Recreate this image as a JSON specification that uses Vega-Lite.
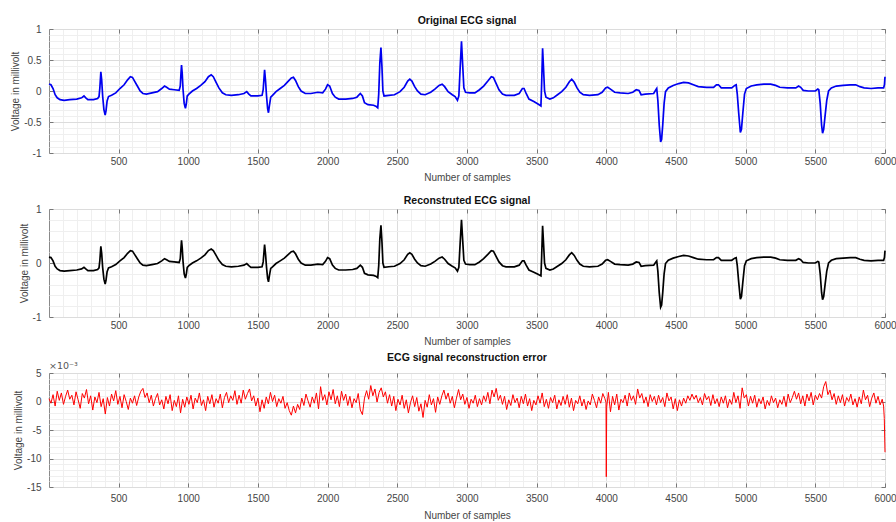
{
"$schema": "https://vega.github.io/schema/vega-lite/v6.json",
"background": "white",
"padding": {"left": 10, "top": 15, "right": 1, "bottom": 0},
"spacing": 56,
"bounds": "flush",
"config": {
  "font": "Liberation Sans",
  "view": {"stroke": "#8a8a8a", "strokeWidth": 1},
  "axis": {"labelFont": "Liberation Sans", "labelFontSize": 10, "labelColor": "#454545", "titleFont": "Liberation Sans", "titleFontSize": 10, "titleFontWeight": "normal", "titleColor": "#454545", "domain": false, "tickColor": "#777777", "tickSize": -4, "labelOverlap": false, "labelFlush": false},
  "title": {"font": "Liberation Sans", "fontSize": 10.5, "fontWeight": "bold", "color": "#111111", "offset": -2, "frame": "group"}
},
"datasets": {
"ecg": [
{"x":1,"o":0.11,"r":0.11},{"x":15,"o":0.10,"r":0.10},{"x":30,"o":0.04,"r":0.04},{"x":45,"o":-0.06,"r":-0.06},{"x":60,"o":-0.11,"r":-0.11},{"x":80,"o":-0.14,"r":-0.14},{"x":110,"o":-0.15,"r":-0.15},{"x":150,"o":-0.14,"r":-0.14},{"x":200,"o":-0.13,"r":-0.13},{"x":235,"o":-0.11,"r":-0.11},{"x":252,"o":-0.08,"r":-0.08},{"x":265,"o":-0.11,"r":-0.11},{"x":280,"o":-0.14,"r":-0.14},{"x":320,"o":-0.14,"r":-0.14},{"x":350,"o":-0.12,"r":-0.12},{"x":360,"o":-0.09,"r":-0.09},{"x":366,"o":0.05,"r":0.05},{"x":373,"o":0.31,"r":0.31},{"x":379,"o":0.18,"r":0.18},{"x":386,"o":-0.08,"r":-0.08},{"x":395,"o":-0.30,"r":-0.30},{"x":404,"o":-0.39,"r":-0.39},{"x":410,"o":-0.32,"r":-0.32},{"x":418,"o":-0.16,"r":-0.16},{"x":428,"o":-0.09,"r":-0.09},{"x":450,"o":-0.07,"r":-0.07},{"x":480,"o":-0.03,"r":-0.03},{"x":510,"o":0.04,"r":0.04},{"x":540,"o":0.10,"r":0.10},{"x":565,"o":0.18,"r":0.18},{"x":585,"o":0.23,"r":0.23},{"x":600,"o":0.22,"r":0.22},{"x":615,"o":0.16,"r":0.16},{"x":635,"o":0.08,"r":0.08},{"x":655,"o":0.00,"r":0.00},{"x":675,"o":-0.04,"r":-0.04},{"x":700,"o":-0.05,"r":-0.05},{"x":740,"o":-0.03,"r":-0.03},{"x":780,"o":-0.01,"r":-0.01},{"x":810,"o":0.04,"r":0.04},{"x":830,"o":0.08,"r":0.08},{"x":845,"o":0.06,"r":0.06},{"x":865,"o":0.03,"r":0.03},{"x":900,"o":0.02,"r":0.02},{"x":935,"o":0.01,"r":0.01},{"x":943,"o":0.08,"r":0.08},{"x":948,"o":0.28,"r":0.28},{"x":952,"o":0.42,"r":0.42},{"x":957,"o":0.28,"r":0.28},{"x":963,"o":0.02,"r":0.02},{"x":971,"o":-0.20,"r":-0.20},{"x":980,"o":-0.28,"r":-0.28},{"x":986,"o":-0.21,"r":-0.21},{"x":993,"o":-0.08,"r":-0.08},{"x":1005,"o":-0.05,"r":-0.05},{"x":1030,"o":0.00,"r":0.00},{"x":1060,"o":0.04,"r":0.04},{"x":1090,"o":0.09,"r":0.09},{"x":1120,"o":0.15,"r":0.15},{"x":1145,"o":0.23,"r":0.23},{"x":1165,"o":0.26,"r":0.26},{"x":1180,"o":0.23,"r":0.23},{"x":1200,"o":0.14,"r":0.14},{"x":1220,"o":0.05,"r":0.05},{"x":1245,"o":-0.03,"r":-0.03},{"x":1270,"o":-0.06,"r":-0.06},{"x":1310,"o":-0.07,"r":-0.07},{"x":1360,"o":-0.06,"r":-0.06},{"x":1400,"o":-0.04,"r":-0.04},{"x":1420,"o":-0.01,"r":-0.01},{"x":1435,"o":-0.05,"r":-0.05},{"x":1450,"o":-0.08,"r":-0.08},{"x":1500,"o":-0.08,"r":-0.08},{"x":1530,"o":-0.07,"r":-0.07},{"x":1538,"o":0.02,"r":0.02},{"x":1548,"o":0.34,"r":0.34},{"x":1555,"o":0.16,"r":0.16},{"x":1562,"o":-0.08,"r":-0.08},{"x":1570,"o":-0.29,"r":-0.29},{"x":1576,"o":-0.35,"r":-0.35},{"x":1583,"o":-0.23,"r":-0.23},{"x":1592,"o":-0.10,"r":-0.10},{"x":1605,"o":-0.07,"r":-0.07},{"x":1630,"o":-0.01,"r":-0.01},{"x":1660,"o":0.04,"r":0.04},{"x":1690,"o":0.09,"r":0.09},{"x":1715,"o":0.15,"r":0.15},{"x":1740,"o":0.21,"r":0.21},{"x":1755,"o":0.22,"r":0.22},{"x":1770,"o":0.17,"r":0.17},{"x":1790,"o":0.07,"r":0.07},{"x":1810,"o":0.00,"r":0.00},{"x":1840,"o":-0.04,"r":-0.04},{"x":1880,"o":-0.04,"r":-0.04},{"x":1930,"o":-0.02,"r":-0.02},{"x":1965,"o":-0.03,"r":-0.03},{"x":1985,"o":0.03,"r":0.03},{"x":2000,"o":0.10,"r":0.10},{"x":2015,"o":0.08,"r":0.08},{"x":2035,"o":-0.04,"r":-0.04},{"x":2055,"o":-0.10,"r":-0.10},{"x":2080,"o":-0.13,"r":-0.13},{"x":2130,"o":-0.13,"r":-0.13},{"x":2180,"o":-0.12,"r":-0.12},{"x":2210,"o":-0.10,"r":-0.10},{"x":2235,"o":-0.04,"r":-0.04},{"x":2250,"o":-0.08,"r":-0.08},{"x":2265,"o":-0.19,"r":-0.19},{"x":2290,"o":-0.22,"r":-0.22},{"x":2330,"o":-0.23,"r":-0.23},{"x":2350,"o":-0.25,"r":-0.25},{"x":2360,"o":-0.27,"r":-0.27},{"x":2367,"o":-0.05,"r":-0.05},{"x":2375,"o":0.45,"r":0.45},{"x":2383,"o":0.70,"r":0.70},{"x":2390,"o":0.40,"r":0.40},{"x":2397,"o":0.00,"r":0.00},{"x":2405,"o":-0.08,"r":-0.08},{"x":2440,"o":-0.07,"r":-0.07},{"x":2480,"o":-0.06,"r":-0.06},{"x":2520,"o":-0.01,"r":-0.01},{"x":2550,"o":0.06,"r":0.06},{"x":2575,"o":0.16,"r":0.16},{"x":2590,"o":0.19,"r":0.19},{"x":2605,"o":0.16,"r":0.16},{"x":2625,"o":0.07,"r":0.07},{"x":2645,"o":0.00,"r":0.00},{"x":2670,"o":-0.05,"r":-0.05},{"x":2700,"o":-0.06,"r":-0.06},{"x":2740,"o":-0.02,"r":-0.02},{"x":2770,"o":0.03,"r":0.03},{"x":2800,"o":0.09,"r":0.09},{"x":2822,"o":0.11,"r":0.11},{"x":2840,"o":0.07,"r":0.07},{"x":2865,"o":-0.01,"r":-0.01},{"x":2895,"o":-0.06,"r":-0.06},{"x":2915,"o":-0.09,"r":-0.09},{"x":2932,"o":-0.15,"r":-0.15},{"x":2942,"o":-0.08,"r":-0.08},{"x":2951,"o":0.35,"r":0.35},{"x":2961,"o":0.80,"r":0.80},{"x":2970,"o":0.40,"r":0.40},{"x":2978,"o":0.05,"r":0.05},{"x":2990,"o":-0.02,"r":-0.02},{"x":3020,"o":-0.03,"r":-0.03},{"x":3057,"o":-0.03,"r":-0.03},{"x":3090,"o":0.02,"r":0.02},{"x":3120,"o":0.08,"r":0.08},{"x":3150,"o":0.16,"r":0.16},{"x":3175,"o":0.23,"r":0.23},{"x":3190,"o":0.22,"r":0.22},{"x":3210,"o":0.12,"r":0.12},{"x":3230,"o":0.02,"r":0.02},{"x":3255,"o":-0.05,"r":-0.05},{"x":3280,"o":-0.07,"r":-0.07},{"x":3340,"o":-0.07,"r":-0.07},{"x":3375,"o":-0.04,"r":-0.04},{"x":3398,"o":0.04,"r":0.04},{"x":3410,"o":0.04,"r":0.04},{"x":3425,"o":-0.04,"r":-0.04},{"x":3445,"o":-0.13,"r":-0.13},{"x":3480,"o":-0.17,"r":-0.17},{"x":3510,"o":-0.21,"r":-0.21},{"x":3531,"o":-0.24,"r":-0.24},{"x":3536,"o":0.10,"r":0.10},{"x":3543,"o":0.69,"r":0.69},{"x":3550,"o":0.35,"r":0.35},{"x":3557,"o":0.00,"r":0.00},{"x":3567,"o":-0.10,"r":-0.10},{"x":3595,"o":-0.13,"r":-0.13},{"x":3620,"o":-0.11,"r":-0.11},{"x":3650,"o":-0.06,"r":-0.06},{"x":3680,"o":-0.01,"r":-0.01},{"x":3710,"o":0.06,"r":0.06},{"x":3735,"o":0.15,"r":0.15},{"x":3752,"o":0.19,"r":0.19},{"x":3770,"o":0.14,"r":0.14},{"x":3790,"o":0.05,"r":0.05},{"x":3810,"o":-0.02,"r":-0.02},{"x":3835,"o":-0.06,"r":-0.06},{"x":3880,"o":-0.07,"r":-0.07},{"x":3940,"o":-0.06,"r":-0.06},{"x":3970,"o":-0.02,"r":-0.02},{"x":3995,"o":0.05,"r":0.05},{"x":4010,"o":0.06,"r":0.06},{"x":4030,"o":0.03,"r":0.03},{"x":4060,"o":-0.02,"r":-0.02},{"x":4100,"o":-0.03,"r":-0.03},{"x":4157,"o":-0.04,"r":-0.04},{"x":4190,"o":-0.02,"r":-0.02},{"x":4215,"o":0.02,"r":0.02},{"x":4235,"o":0.01,"r":0.01},{"x":4250,"o":-0.06,"r":-0.06},{"x":4280,"o":-0.05,"r":-0.05},{"x":4340,"o":-0.04,"r":-0.04},{"x":4356,"o":0.02,"r":0.02},{"x":4362,"o":0.04,"r":0.04},{"x":4370,"o":-0.15,"r":-0.15},{"x":4380,"o":-0.55,"r":-0.55},{"x":4390,"o":-0.82,"r":-0.82},{"x":4397,"o":-0.78,"r":-0.78},{"x":4405,"o":-0.55,"r":-0.55},{"x":4415,"o":-0.20,"r":-0.20},{"x":4425,"o":-0.01,"r":-0.01},{"x":4445,"o":0.05,"r":0.05},{"x":4480,"o":0.09,"r":0.09},{"x":4520,"o":0.12,"r":0.12},{"x":4555,"o":0.14,"r":0.14},{"x":4590,"o":0.13,"r":0.13},{"x":4625,"o":0.10,"r":0.10},{"x":4660,"o":0.07,"r":0.07},{"x":4720,"o":0.06,"r":0.06},{"x":4770,"o":0.06,"r":0.06},{"x":4790,"o":0.10,"r":0.10},{"x":4805,"o":0.10,"r":0.10},{"x":4825,"o":0.05,"r":0.05},{"x":4900,"o":0.05,"r":0.05},{"x":4922,"o":0.09,"r":0.09},{"x":4932,"o":0.10,"r":0.10},{"x":4940,"o":-0.05,"r":-0.05},{"x":4950,"o":-0.35,"r":-0.35},{"x":4962,"o":-0.67,"r":-0.67},{"x":4970,"o":-0.62,"r":-0.62},{"x":4980,"o":-0.35,"r":-0.35},{"x":4992,"o":-0.05,"r":-0.05},{"x":5005,"o":0.04,"r":0.04},{"x":5040,"o":0.08,"r":0.08},{"x":5080,"o":0.10,"r":0.10},{"x":5130,"o":0.11,"r":0.11},{"x":5180,"o":0.11,"r":0.11},{"x":5215,"o":0.09,"r":0.09},{"x":5245,"o":0.06,"r":0.06},{"x":5300,"o":0.05,"r":0.05},{"x":5360,"o":0.05,"r":0.05},{"x":5380,"o":0.08,"r":0.08},{"x":5395,"o":0.06,"r":0.06},{"x":5413,"o":0.01,"r":0.01},{"x":5450,"o":0.00,"r":0.00},{"x":5500,"o":0.00,"r":0.00},{"x":5518,"o":0.03,"r":0.03},{"x":5525,"o":0.02,"r":0.02},{"x":5535,"o":-0.20,"r":-0.20},{"x":5545,"o":-0.55,"r":-0.55},{"x":5552,"o":-0.68,"r":-0.68},{"x":5560,"o":-0.62,"r":-0.62},{"x":5570,"o":-0.40,"r":-0.40},{"x":5582,"o":-0.15,"r":-0.15},{"x":5595,"o":0.00,"r":0.00},{"x":5615,"o":0.05,"r":0.05},{"x":5650,"o":0.08,"r":0.08},{"x":5700,"o":0.09,"r":0.09},{"x":5750,"o":0.10,"r":0.10},{"x":5790,"o":0.10,"r":0.10},{"x":5820,"o":0.07,"r":0.07},{"x":5850,"o":0.05,"r":0.05},{"x":5900,"o":0.04,"r":0.04},{"x":5950,"o":0.05,"r":0.05},{"x":5990,"o":0.05,"r":0.05},{"x":5996,"o":0.10,"r":0.10},{"x":6000,"o":0.23,"r":0.23}
],
"err": [
{"x":1,"e":0.5},{"x":15,"e":-0.3},{"x":30,"e":1.2},{"x":45,"e":-0.8},{"x":60,"e":1.8},{"x":75,"e":0.2},{"x":90,"e":1.5},{"x":105,"e":-0.5},{"x":120,"e":0.9},{"x":135,"e":2.0},{"x":150,"e":0.4},{"x":165,"e":1.1},{"x":180,"e":-0.6},{"x":195,"e":1.7},{"x":210,"e":0.3},{"x":225,"e":-1.2},{"x":240,"e":1.4},{"x":255,"e":0.6},{"x":270,"e":2.1},{"x":285,"e":-0.4},{"x":300,"e":1.0},{"x":315,"e":-1.5},{"x":330,"e":0.8},{"x":345,"e":-0.2},{"x":360,"e":1.6},{"x":375,"e":-0.9},{"x":390,"e":0.5},{"x":405,"e":-2.2},{"x":420,"e":0.7},{"x":435,"e":-0.8},{"x":450,"e":1.3},{"x":465,"e":0.1},{"x":480,"e":1.9},{"x":495,"e":-0.5},{"x":510,"e":0.9},{"x":525,"e":-1.1},{"x":540,"e":1.2},{"x":555,"e":0.0},{"x":570,"e":-1.4},{"x":585,"e":0.6},{"x":600,"e":-0.3},{"x":615,"e":1.0},{"x":630,"e":-0.7},{"x":645,"e":0.8},{"x":660,"e":1.8},{"x":675,"e":2.3},{"x":690,"e":0.7},{"x":705,"e":1.5},{"x":720,"e":-0.2},{"x":735,"e":1.1},{"x":750,"e":-0.8},{"x":765,"e":0.5},{"x":780,"e":1.4},{"x":795,"e":-0.6},{"x":810,"e":0.3},{"x":825,"e":-1.3},{"x":840,"e":0.9},{"x":855,"e":-0.4},{"x":870,"e":1.2},{"x":885,"e":-1.6},{"x":900,"e":0.2},{"x":915,"e":-0.9},{"x":930,"e":1.0},{"x":945,"e":-2.0},{"x":960,"e":0.4},{"x":975,"e":-1.0},{"x":990,"e":0.8},
{"x":1005,"e":-0.5},{"x":1020,"e":1.1},{"x":1035,"e":-1.3},{"x":1050,"e":0.6},{"x":1065,"e":-0.2},{"x":1080,"e":1.5},{"x":1095,"e":-0.7},{"x":1110,"e":0.3},{"x":1125,"e":-1.6},{"x":1140,"e":0.9},{"x":1155,"e":-0.4},{"x":1170,"e":1.2},{"x":1185,"e":-1.0},{"x":1200,"e":0.5},{"x":1215,"e":-0.3},{"x":1230,"e":1.3},{"x":1245,"e":-1.1},{"x":1260,"e":0.7},{"x":1275,"e":1.6},{"x":1290,"e":-0.2},{"x":1305,"e":1.0},{"x":1320,"e":0.2},{"x":1335,"e":1.9},{"x":1350,"e":-0.5},{"x":1365,"e":1.1},{"x":1380,"e":-0.3},{"x":1395,"e":2.0},{"x":1410,"e":0.4},{"x":1425,"e":1.4},{"x":1440,"e":2.2},{"x":1455,"e":0.1},{"x":1470,"e":1.0},{"x":1485,"e":-0.8},{"x":1500,"e":0.6},{"x":1515,"e":-1.8},{"x":1530,"e":0.3},{"x":1545,"e":-1.2},{"x":1560,"e":0.8},{"x":1575,"e":-0.4},{"x":1590,"e":1.6},{"x":1605,"e":0.0},{"x":1620,"e":1.1},{"x":1635,"e":-0.9},{"x":1650,"e":0.5},{"x":1665,"e":-0.3},{"x":1680,"e":0.9},{"x":1695,"e":-1.2},{"x":1710,"e":-0.2},{"x":1725,"e":-1.6},{"x":1740,"e":-2.4},{"x":1755,"e":-0.8},{"x":1770,"e":-2.0},{"x":1785,"e":-0.5},{"x":1800,"e":-1.4},{"x":1815,"e":0.6},{"x":1830,"e":-0.7},{"x":1845,"e":1.3},{"x":1860,"e":0.1},{"x":1875,"e":-1.0},{"x":1890,"e":0.8},{"x":1905,"e":-0.3},{"x":1920,"e":1.5},{"x":1935,"e":-1.3},{"x":1950,"e":2.6},{"x":1965,"e":0.2},{"x":1980,"e":1.2},{"x":1995,"e":-0.6},
{"x":2010,"e":1.7},{"x":2025,"e":0.3},{"x":2040,"e":2.1},{"x":2055,"e":-0.4},{"x":2070,"e":1.0},{"x":2085,"e":-0.9},{"x":2100,"e":1.8},{"x":2115,"e":0.2},{"x":2130,"e":1.3},{"x":2145,"e":-0.7},{"x":2160,"e":0.9},{"x":2175,"e":-1.1},{"x":2190,"e":0.5},{"x":2205,"e":-0.2},{"x":2220,"e":1.4},{"x":2235,"e":-1.5},{"x":2250,"e":-2.3},{"x":2265,"e":0.6},{"x":2280,"e":1.9},{"x":2295,"e":0.4},{"x":2310,"e":2.8},{"x":2325,"e":1.0},{"x":2340,"e":2.2},{"x":2355,"e":-0.1},{"x":2370,"e":1.6},{"x":2385,"e":2.4},{"x":2400,"e":0.8},{"x":2415,"e":1.7},{"x":2430,"e":-0.3},{"x":2445,"e":1.2},{"x":2460,"e":-0.8},{"x":2475,"e":0.9},{"x":2490,"e":-1.6},{"x":2505,"e":0.4},{"x":2520,"e":-0.6},{"x":2535,"e":1.1},{"x":2550,"e":-1.2},{"x":2565,"e":0.3},{"x":2580,"e":-2.0},{"x":2595,"e":-0.2},{"x":2610,"e":1.0},{"x":2625,"e":-0.9},{"x":2640,"e":0.7},{"x":2655,"e":-1.7},{"x":2670,"e":-0.4},{"x":2685,"e":-2.8},{"x":2700,"e":0.2},{"x":2715,"e":-1.0},{"x":2730,"e":1.2},{"x":2745,"e":-0.6},{"x":2760,"e":0.5},{"x":2775,"e":-1.9},{"x":2790,"e":0.8},{"x":2805,"e":-0.5},{"x":2820,"e":1.0},{"x":2835,"e":2.0},{"x":2850,"e":0.4},{"x":2865,"e":1.5},{"x":2880,"e":-0.3},{"x":2895,"e":0.9},{"x":2910,"e":-1.1},{"x":2925,"e":0.6},{"x":2940,"e":2.1},{"x":2955,"e":0.3},{"x":2970,"e":1.3},{"x":2985,"e":-0.5},
{"x":3000,"e":0.7},{"x":3015,"e":-1.2},{"x":3030,"e":0.4},{"x":3045,"e":-0.3},{"x":3060,"e":1.1},{"x":3075,"e":-0.9},{"x":3090,"e":0.5},{"x":3105,"e":-0.6},{"x":3120,"e":1.0},{"x":3135,"e":0.0},{"x":3150,"e":1.6},{"x":3165,"e":-0.4},{"x":3180,"e":2.0},{"x":3195,"e":0.8},{"x":3210,"e":2.3},{"x":3225,"e":0.2},{"x":3240,"e":1.1},{"x":3255,"e":-0.5},{"x":3270,"e":0.9},{"x":3285,"e":-1.4},{"x":3300,"e":0.3},{"x":3315,"e":-0.7},{"x":3330,"e":1.2},{"x":3345,"e":-0.2},{"x":3360,"e":0.6},{"x":3375,"e":-1.1},{"x":3390,"e":0.9},{"x":3405,"e":-0.4},{"x":3420,"e":1.3},{"x":3435,"e":-0.8},{"x":3450,"e":0.5},{"x":3465,"e":-1.6},{"x":3480,"e":0.2},{"x":3495,"e":-0.6},{"x":3510,"e":1.0},{"x":3525,"e":-0.3},{"x":3540,"e":1.5},{"x":3555,"e":-0.9},{"x":3570,"e":0.4},{"x":3585,"e":-1.2},{"x":3600,"e":0.7},{"x":3615,"e":-0.2},{"x":3630,"e":1.1},{"x":3645,"e":-1.3},{"x":3660,"e":0.3},{"x":3675,"e":-0.7},{"x":3690,"e":0.9},{"x":3705,"e":-0.5},{"x":3720,"e":1.2},{"x":3735,"e":-1.0},{"x":3750,"e":0.6},{"x":3765,"e":-1.6},{"x":3780,"e":0.2},{"x":3795,"e":-0.4},{"x":3810,"e":1.0},{"x":3825,"e":-0.8},{"x":3840,"e":0.4},{"x":3855,"e":-1.4},{"x":3870,"e":0.1},{"x":3885,"e":-0.6},{"x":3900,"e":1.3},{"x":3915,"e":0.2},{"x":3930,"e":-1.1},{"x":3945,"e":0.8},{"x":3960,"e":-0.3},{"x":3975,"e":1.4},{"x":3990,"e":0.5},{"x":3998,"e":-0.2},{"x":4000,"e":-13.2},{"x":4003,"e":-1.0},
{"x":4015,"e":1.6},{"x":4030,"e":-1.8},{"x":4045,"e":0.9},{"x":4060,"e":-0.6},{"x":4075,"e":1.3},{"x":4090,"e":-1.5},{"x":4105,"e":0.4},{"x":4120,"e":-0.2},{"x":4135,"e":1.1},{"x":4150,"e":-0.8},{"x":4165,"e":1.5},{"x":4180,"e":0.2},{"x":4195,"e":1.0},{"x":4210,"e":-0.5},{"x":4225,"e":2.2},{"x":4240,"e":0.6},{"x":4255,"e":1.4},{"x":4270,"e":-0.3},{"x":4285,"e":0.8},{"x":4300,"e":-0.9},{"x":4315,"e":1.2},{"x":4330,"e":0.0},{"x":4345,"e":0.9},{"x":4360,"e":-0.6},{"x":4375,"e":1.1},{"x":4390,"e":-0.2},{"x":4405,"e":0.7},{"x":4420,"e":-0.9},{"x":4435,"e":1.5},{"x":4450,"e":0.1},{"x":4465,"e":0.8},{"x":4480,"e":-1.3},{"x":4495,"e":0.5},{"x":4510,"e":-1.6},{"x":4525,"e":0.3},{"x":4540,"e":-0.8},{"x":4555,"e":0.6},{"x":4570,"e":-0.3},{"x":4585,"e":1.0},{"x":4600,"e":0.2},{"x":4615,"e":1.3},{"x":4630,"e":0.4},{"x":4645,"e":1.1},{"x":4660,"e":-0.2},{"x":4675,"e":0.7},{"x":4690,"e":-0.6},{"x":4705,"e":1.4},{"x":4720,"e":0.3},{"x":4735,"e":0.9},{"x":4750,"e":-0.7},{"x":4765,"e":1.2},{"x":4780,"e":-0.4},{"x":4795,"e":0.5},{"x":4810,"e":-0.9},{"x":4825,"e":0.8},{"x":4840,"e":-0.3},{"x":4855,"e":1.0},{"x":4870,"e":-1.1},{"x":4885,"e":0.4},{"x":4900,"e":-0.5},{"x":4915,"e":1.6},{"x":4930,"e":-0.2},{"x":4945,"e":1.0},{"x":4960,"e":-1.2},{"x":4975,"e":2.4},{"x":4990,"e":0.6},
{"x":5005,"e":1.2},{"x":5020,"e":-0.8},{"x":5035,"e":0.9},{"x":5050,"e":-0.3},{"x":5065,"e":1.1},{"x":5080,"e":-1.0},{"x":5095,"e":0.5},{"x":5110,"e":-0.4},{"x":5125,"e":0.8},{"x":5140,"e":-1.3},{"x":5155,"e":0.2},{"x":5170,"e":-0.7},{"x":5185,"e":1.0},{"x":5200,"e":-0.2},{"x":5215,"e":0.6},{"x":5230,"e":-1.1},{"x":5245,"e":0.3},{"x":5260,"e":-0.5},{"x":5275,"e":0.9},{"x":5290,"e":-0.9},{"x":5305,"e":1.3},{"x":5320,"e":-0.2},{"x":5335,"e":0.7},{"x":5350,"e":1.8},{"x":5365,"e":0.4},{"x":5380,"e":1.5},{"x":5395,"e":-0.4},{"x":5410,"e":1.0},{"x":5425,"e":-0.8},{"x":5440,"e":1.3},{"x":5455,"e":0.1},{"x":5470,"e":1.6},{"x":5485,"e":-0.6},{"x":5500,"e":1.1},{"x":5515,"e":0.3},{"x":5530,"e":1.4},{"x":5545,"e":0.6},{"x":5560,"e":2.6},{"x":5575,"e":3.5},{"x":5590,"e":1.2},{"x":5605,"e":2.0},{"x":5620,"e":0.3},{"x":5635,"e":1.4},{"x":5650,"e":-0.5},{"x":5665,"e":1.0},{"x":5680,"e":-0.2},{"x":5695,"e":1.2},{"x":5710,"e":-0.8},{"x":5725,"e":0.7},{"x":5740,"e":0.0},{"x":5755,"e":1.3},{"x":5770,"e":-0.6},{"x":5785,"e":0.5},{"x":5800,"e":-1.0},{"x":5815,"e":0.8},{"x":5830,"e":-0.4},{"x":5845,"e":2.0},{"x":5860,"e":0.3},{"x":5875,"e":1.1},{"x":5890,"e":-0.9},{"x":5905,"e":0.6},{"x":5920,"e":1.5},{"x":5935,"e":-0.3},{"x":5950,"e":0.9},{"x":5965,"e":-0.6},{"x":5980,"e":0.4},{"x":5990,"e":-0.8},{"x":5995,"e":-3.0},{"x":6000,"e":-8.9}
]
},
"vconcat": [
{
  "title": "Original ECG signal",
  "width": 836, "height": 124,
  "data": {"name": "ecg"},
  "layer": [
    {"mark": {"type": "line", "color": "#0000f0", "strokeWidth": 1.7},
     "encoding": {
       "x": {"field": "x", "type": "quantitative", "scale": {"domain": [1, 6000], "nice": false, "zero": false},
         "axis": {"title": "Number of samples", "values": [100,200,300,400,500,600,700,800,900,1000,1100,1200,1300,1400,1500,1600,1700,1800,1900,2000,2100,2200,2300,2400,2500,2600,2700,2800,2900,3000,3100,3200,3300,3400,3500,3600,3700,3800,3900,4000,4100,4200,4300,4400,4500,4600,4700,4800,4900,5000,5100,5200,5300,5400,5500,5600,5700,5800,5900,6000],
           "labelExpr": "datum.value % 500 === 0 ? '' + datum.value : ''",
           "gridColor": {"condition": {"test": "datum.value % 500 === 0", "value": "#dcdcdc"}, "value": "#efefef"},
           "tickOpacity": {"condition": {"test": "datum.value % 500 === 0", "value": 1}, "value": 0},
           "labelPadding": 7, "titlePadding": 6}},
       "y": {"field": "o", "type": "quantitative", "scale": {"domain": [-1, 1], "nice": false, "zero": false},
         "axis": {"title": "Voltage in millivolt", "values": [-1,-0.9,-0.8,-0.7,-0.6,-0.5,-0.4,-0.3,-0.2,-0.1,0,0.1,0.2,0.3,0.4,0.5,0.6,0.7,0.8,0.9,1],
           "labelExpr": "abs(datum.value*2 - round(datum.value*2)) < 0.001 ? '' + datum.value : ''",
           "gridColor": {"condition": {"test": "abs(datum.value*2 - round(datum.value*2)) < 0.001", "value": "#dcdcdc"}, "value": "#efefef"},
           "tickOpacity": {"condition": {"test": "abs(datum.value*2 - round(datum.value*2)) < 0.001", "value": 1}, "value": 0},
           "labelPadding": 12, "titlePadding": 3}}
     }},
    {"mark": {"type": "line", "opacity": 0},
     "encoding": {
       "x": {"field": "x", "type": "quantitative", "scale": {"domain": [1, 6000], "nice": false, "zero": false},
         "axis": {"orient": "top", "title": null, "labels": false, "grid": false, "values": [500,1000,1500,2000,2500,3000,3500,4000,4500,5000,5500,6000]}},
       "y": {"field": "o", "type": "quantitative", "scale": {"domain": [-1, 1], "nice": false, "zero": false},
         "axis": {"orient": "right", "title": null, "labels": false, "grid": false, "values": [-1,-0.5,0,0.5,1]}}
     }}
  ],
  "resolve": {"axis": {"x": "independent", "y": "independent"}}
},
{
  "title": "Reconstruted ECG signal",
  "width": 836, "height": 108,
  "data": {"name": "ecg"},
  "layer": [
    {"mark": {"type": "line", "color": "#000000", "strokeWidth": 1.7},
     "encoding": {
       "x": {"field": "x", "type": "quantitative", "scale": {"domain": [1, 6000], "nice": false, "zero": false},
         "axis": {"title": "Number of samples", "values": [100,200,300,400,500,600,700,800,900,1000,1100,1200,1300,1400,1500,1600,1700,1800,1900,2000,2100,2200,2300,2400,2500,2600,2700,2800,2900,3000,3100,3200,3300,3400,3500,3600,3700,3800,3900,4000,4100,4200,4300,4400,4500,4600,4700,4800,4900,5000,5100,5200,5300,5400,5500,5600,5700,5800,5900,6000],
           "labelExpr": "datum.value % 500 === 0 ? '' + datum.value : ''",
           "gridColor": {"condition": {"test": "datum.value % 500 === 0", "value": "#dcdcdc"}, "value": "#efefef"},
           "tickOpacity": {"condition": {"test": "datum.value % 500 === 0", "value": 1}, "value": 0},
           "labelPadding": 7, "titlePadding": 6}},
       "y": {"field": "r", "type": "quantitative", "scale": {"domain": [-1, 1], "nice": false, "zero": false},
         "axis": {"title": "Voltage in millivolt", "values": [-1,-0.8,-0.6,-0.4,-0.2,0,0.2,0.4,0.6,0.8,1],
           "labelExpr": "abs(datum.value - round(datum.value)) < 0.001 ? '' + datum.value : ''",
           "gridColor": {"condition": {"test": "abs(datum.value - round(datum.value)) < 0.001", "value": "#dcdcdc"}, "value": "#efefef"},
           "tickOpacity": {"condition": {"test": "abs(datum.value - round(datum.value)) < 0.001", "value": 1}, "value": 0},
           "labelPadding": 12, "titlePadding": 3}}
     }},
    {"mark": {"type": "line", "opacity": 0},
     "encoding": {
       "x": {"field": "x", "type": "quantitative", "scale": {"domain": [1, 6000], "nice": false, "zero": false},
         "axis": {"orient": "top", "title": null, "labels": false, "grid": false, "values": [500,1000,1500,2000,2500,3000,3500,4000,4500,5000,5500,6000]}},
       "y": {"field": "r", "type": "quantitative", "scale": {"domain": [-1, 1], "nice": false, "zero": false},
         "axis": {"orient": "right", "title": null, "labels": false, "grid": false, "values": [-1,0,1]}}
     }}
  ],
  "resolve": {"axis": {"x": "independent", "y": "independent"}}
},
{
  "title": "ECG signal reconstruction error",
  "width": 836, "height": 114,
  "layer": [
    {"data": {"name": "err"},
     "mark": {"type": "line", "color": "#ff0000", "strokeWidth": 1},
     "encoding": {
       "x": {"field": "x", "type": "quantitative", "scale": {"domain": [1, 6000], "nice": false, "zero": false},
         "axis": {"title": "Number of samples", "values": [100,200,300,400,500,600,700,800,900,1000,1100,1200,1300,1400,1500,1600,1700,1800,1900,2000,2100,2200,2300,2400,2500,2600,2700,2800,2900,3000,3100,3200,3300,3400,3500,3600,3700,3800,3900,4000,4100,4200,4300,4400,4500,4600,4700,4800,4900,5000,5100,5200,5300,5400,5500,5600,5700,5800,5900,6000],
           "labelExpr": "datum.value % 500 === 0 ? '' + datum.value : ''",
           "gridColor": {"condition": {"test": "datum.value % 500 === 0", "value": "#dcdcdc"}, "value": "#efefef"},
           "tickOpacity": {"condition": {"test": "datum.value % 500 === 0", "value": 1}, "value": 0},
           "labelPadding": 10, "titlePadding": 7}},
       "y": {"field": "e", "type": "quantitative", "scale": {"domain": [-15, 5], "nice": false, "zero": false},
         "axis": {"title": "Voltage in millivolt", "values": [-15,-14,-13,-12,-11,-10,-9,-8,-7,-6,-5,-4,-3,-2,-1,0,1,2,3,4,5],
           "labelExpr": "datum.value % 5 === 0 ? '' + datum.value : ''",
           "gridColor": {"condition": {"test": "datum.value % 5 === 0", "value": "#dcdcdc"}, "value": "#efefef"},
           "tickOpacity": {"condition": {"test": "datum.value % 5 === 0", "value": 1}, "value": 0},
           "labelPadding": 12, "titlePadding": 3}}
     }},
    {"data": {"name": "err"},
     "mark": {"type": "line", "opacity": 0},
     "encoding": {
       "x": {"field": "x", "type": "quantitative", "scale": {"domain": [1, 6000], "nice": false, "zero": false},
         "axis": {"orient": "top", "title": null, "labels": false, "grid": false, "values": [500,1000,1500,2000,2500,3000,3500,4000,4500,5000,5500,6000]}},
       "y": {"field": "e", "type": "quantitative", "scale": {"domain": [-15, 5], "nice": false, "zero": false},
         "axis": {"orient": "right", "title": null, "labels": false, "grid": false, "values": [-15,-10,-5,0,5]}}
     }},
    {"data": {"values": [{"t": "×10⁻³"}]},
     "mark": {"type": "text", "align": "left", "baseline": "bottom", "dy": -2, "fontSize": 9.5, "color": "#555555", "font": "DejaVu Sans"},
     "encoding": {"x": {"datum": 1, "axis": null}, "y": {"datum": 5, "axis": null}, "text": {"field": "t"}}}
  ],
  "resolve": {"axis": {"x": "independent", "y": "independent"}}
}
]
}
